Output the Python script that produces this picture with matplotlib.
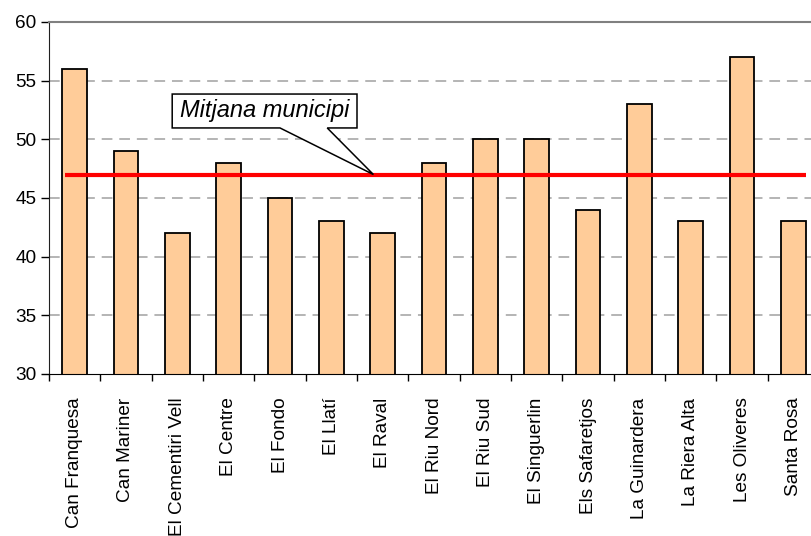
import matplotlib
matplotlib.use("Agg")
import matplotlib.pyplot as plt
from matplotlib.patches import Polygon
from matplotlib.ticker import FixedLocator

barris = ["Can Franquesa", "Can Mariner", "El Cementiri Vell", "El Centre",
          "El Fondo", "El Llatí", "El Raval", "El Riu Nord", "El Riu Sud",
          "El Singuerlin", "Els Safaretjos", "La Guinardera", "La Riera Alta",
          "Les Oliveres", "Santa Rosa"]
valors = [56, 49, 42, 48, 45, 43, 42, 48, 50, 50, 44, 53, 43, 57, 43]
mitjana = 47

plt.rcParams['font.family'] = ['Liberation Sans', 'DejaVu Sans']

fig = plt.figure(figsize=(8.11, 5.36), dpi=100)
# the plot area runs a bit past the right edge of the picture
ax = fig.add_axes([49/811, 1 - 374/536, 770/811, 352/536])

x = list(range(len(barris)))
ax.bar(x, valors, width=0.48, bottom=0, color="#FFCC99",
       edgecolor="black", linewidth=1.3, zorder=2)

ax.set_xlim(-0.5, len(barris) - 0.5)
ax.set_ylim(30, 60)
ax.set_yticks(range(30, 61, 5))

for v in range(35, 60, 5):
    ax.axhline(v, color="#A0A0A0", linewidth=1.1,
               linestyle=(0, (7, 4.5)), zorder=1)

# average line
ax.hlines(mitjana, -0.19, 14.24, color="red", linewidth=3, zorder=3)

# callout
cx = [1.9, 5.5, 5.5, 4.92, 5.82, 4.0, 1.9]
cy = [53.86, 53.86, 50.97, 50.97, mitjana, 50.97, 50.97]
ax.add_patch(Polygon(list(zip(cx, cy)), closed=True, facecolor="white",
                     edgecolor="black", linewidth=1.1, zorder=4))
ax.text(3.7, 52.42, "Mitjana municipi", style="italic", fontsize=17,
        ha="center", va="center", zorder=5)

ax.set_xticks(x)
ax.set_xticklabels(barris, rotation=90, fontsize=13.7, va="top", ha="center")
ax.xaxis.set_minor_locator(FixedLocator([i - 0.5 for i in range(len(barris) + 1)]))
ax.tick_params(axis="x", which="major", length=0, pad=17)
ax.tick_params(axis="x", which="minor", length=5, width=1, direction="out")
ax.tick_params(axis="y", length=6, width=1, labelsize=13.7, pad=3)

ax.spines["right"].set_visible(False)
ax.spines["top"].set_color("#808080")
ax.spines["top"].set_linewidth(1.5)
ax.spines["left"].set_color("#202020")
ax.spines["bottom"].set_color("black")

fig.savefig("out.png", dpi=100)
